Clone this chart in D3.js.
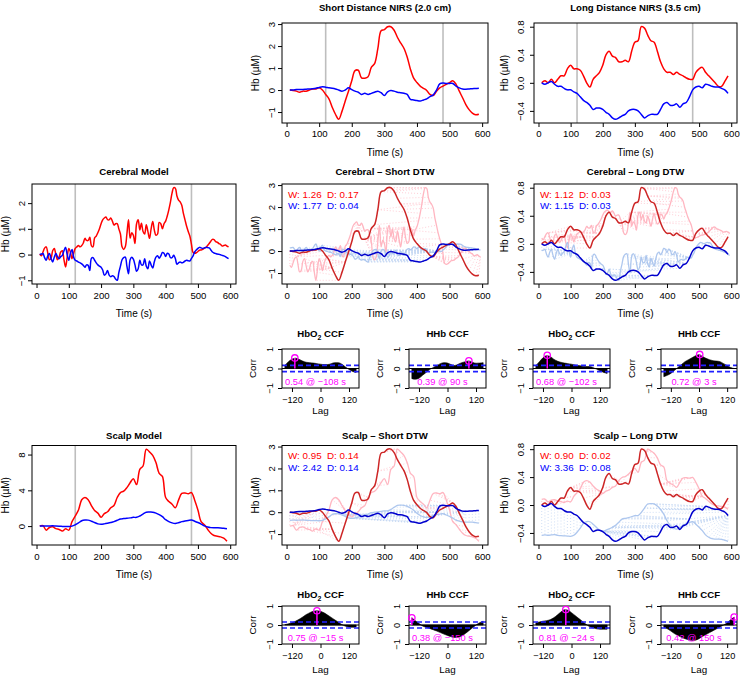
<!DOCTYPE html>
<html><head><meta charset="utf-8">
<script src="https://cdn.jsdelivr.net/npm/d3@7"></script>
<style>body{margin:0;background:#fff}svg{display:block}</style>
</head><body>
<svg id="chart" width="740" height="675"></svg>
<script>
// ---------------- DATA ----------------
const timeA = [10,20,30,40,50,60,70,80,90,100,110,120,130,140,150,160,170,180,190,200,210,220,230,240,250,260,270,280,290,300,310,320,330,340,350,360,370,380,390,400,410,420,430,440,450,460,470,480,490,500,510,520,530,540,550,560,570,580,590];
const timeB = [10,15,20,25,30,35,40,45,50,55,60,65,70,75,80,85,90,95,100,105,110,115,120,125,130,135,140,145,150,155,160,165,170,175,180,185,190,195,200,205,210,215,220,225,230,235,240,245,250,255,260,265,270,275,280,285,290,295,300,305,310,315,320,325,330,335,340,345,350,355,360,365,370,375,380,385,390,395,400,405,410,415,420,425,430,435,440,445,450,455,460,465,470,475,480,485,490,495,500,505,510,515,520,525,530,535,540,545,550,555,560,565,570,575,580,585,590,595];

const shortHbO2 = [0.0,-0.02,-0.05,-0.1,-0.05,-0.05,0.0,0.05,0.05,0.1,
  0.0,-0.2,-0.4,-0.78,-1.1,-1.33,-0.97,-0.5,-0.05,0.42,
  0.88,0.9,0.55,0.54,0.6,1.03,1.2,1.88,2.7,2.75,
  2.88,2.88,2.72,2.4,2.14,1.9,1.5,0.95,0.54,0.34,
  0.18,0.08,-0.02,-0.2,-0.25,-0.05,0.1,0.18,0.26,0.34,
  0.42,0.26,-0.05,-0.35,-0.66,-0.89,-1.05,-1.12,-1.1];
const shortHHb = [0.0,0.0,0.02,0.03,0.03,0.04,0.05,0.06,0.08,0.12,
  0.15,0.13,0.1,0.08,0.05,0.0,-0.05,0.0,0.1,0.02,
  -0.05,-0.1,-0.2,-0.15,-0.2,-0.15,-0.1,-0.05,-0.12,-0.25,
  -0.08,-0.02,-0.05,-0.1,-0.12,-0.15,-0.2,-0.42,-0.45,-0.48,
  -0.5,-0.45,-0.4,-0.3,-0.22,0.0,0.28,0.32,0.3,0.3,
  0.3,0.18,0.1,0.05,0.04,0.05,0.06,0.07,0.08];
const longHbO2 = [0.0,0.03,0.0,0.05,0.0,0.05,0.1,0.1,0.2,0.25,
  0.2,0.2,0.18,0.1,0.0,-0.06,0.05,0.1,0.15,0.25,
  0.4,0.45,0.38,0.36,0.3,0.3,0.32,0.3,0.45,0.58,
  0.6,0.8,0.78,0.68,0.6,0.58,0.45,0.3,0.2,0.15,
  0.15,0.12,0.15,0.12,0.1,0.07,0.05,0.05,0.15,0.2,
  0.22,0.15,0.1,0.05,0.0,-0.05,-0.05,0.02,0.1];
const longHHb = [0.0,-0.02,0.0,0.02,-0.02,-0.05,-0.05,-0.08,-0.1,-0.1,
  -0.13,-0.15,-0.2,-0.25,-0.28,-0.32,-0.38,-0.36,-0.36,-0.38,
  -0.42,-0.45,-0.5,-0.52,-0.5,-0.47,-0.45,-0.4,-0.38,-0.38,
  -0.4,-0.45,-0.5,-0.47,-0.45,-0.45,-0.45,-0.38,-0.3,-0.28,
  -0.32,-0.32,-0.3,-0.35,-0.3,-0.28,-0.2,-0.1,-0.06,-0.05,
  -0.07,-0.02,-0.03,-0.05,-0.06,-0.06,-0.08,-0.1,-0.15];
const cerebHbO2 = [0.02,-0.05,0.1,0.25,0.3,0.05,-0.2,-0.15,0.15,0.24,
  0.0,-0.2,-0.1,0.1,0.15,-0.2,-0.48,-0.1,0.24,0.1,
  -0.16,0.05,0.24,0.3,0.35,0.3,0.35,0.45,0.63,0.55,
  0.55,0.67,0.35,0.3,0.65,0.72,0.85,1.0,1.2,1.35,
  1.42,1.46,1.36,1.35,1.42,1.3,1.15,1.2,1.2,1.0,
  0.8,0.3,0.2,0.3,0.8,1.35,0.63,0.85,0.75,0.43,
  1.2,1.35,0.96,1.22,0.9,0.8,1.16,0.9,0.63,1.0,
  1.29,0.95,0.75,0.8,1.25,1.2,1.0,1.2,1.3,1.5,
  1.75,2.05,2.4,2.6,2.58,2.28,2.12,2.05,1.92,1.6,
  1.35,1.1,0.9,0.72,0.4,0.08,0.05,0.07,0.12,0.17,
  0.18,0.2,0.25,0.28,0.35,0.43,0.52,0.59,0.58,0.5,
  0.48,0.43,0.4,0.33,0.35,0.37,0.33,0.3];
const cerebHHb = [0.0,0.02,0.04,-0.12,-0.22,-0.05,0.04,-0.15,-0.29,-0.1,
  0.04,-0.08,-0.16,-0.08,-0.03,0.15,0.28,0.0,-0.22,0.05,
  0.2,-0.1,-0.22,-0.25,-0.29,-0.32,-0.36,-0.42,-0.49,-0.4,
  -0.42,-0.62,-0.15,-0.12,-0.22,-0.32,-0.4,-0.45,-0.49,-0.6,
  -0.8,-0.75,-0.62,-0.8,-0.86,-0.82,-0.85,-0.95,-1.0,-0.7,
  -0.45,-0.2,-0.12,-0.1,-0.45,-0.75,-0.2,-0.1,-0.18,-0.4,
  -0.65,-0.55,-0.22,-0.4,-0.4,-0.16,-0.45,-0.55,-0.25,-0.4,
  -0.52,-0.28,-0.1,-0.05,-0.14,-0.05,0.08,0.05,-0.07,0.05,
  0.02,-0.12,-0.12,-0.03,-0.15,-0.38,-0.32,-0.29,-0.32,-0.3,
  -0.25,-0.22,-0.24,-0.25,-0.15,-0.05,0.1,0.18,0.24,0.28,
  0.26,0.24,0.26,0.28,0.27,0.26,0.18,0.1,0.06,0.04,
  0.02,0.01,-0.01,-0.03,-0.05,-0.08,-0.12,-0.16];
const scalpHbO2 = [0.0,0.05,-0.45,-0.15,-0.08,-0.28,-0.38,-0.55,-0.3,-0.45,
  0.5,1.13,1.8,2.94,3.2,2.95,2.3,1.75,1.45,1.0,
  1.4,1.6,2.05,2.3,3.2,3.75,3.9,4.3,4.85,5.3,
  4.64,6.34,6.72,8.6,8.3,7.9,7.1,5.9,5.55,3.2,
  2.75,2.45,2.05,2.9,3.65,3.7,3.62,3.75,2.9,1.8,
  0.5,0.15,-0.35,-0.8,-1.05,-1.13,-1.2,-1.35,-1.7];
const scalpHHb = [0.0,0.02,0.0,0.02,0.03,0.0,-0.02,-0.03,-0.04,-0.05,
  0.0,0.15,0.35,0.6,0.68,0.67,0.55,0.4,0.25,0.2,
  0.25,0.32,0.4,0.5,0.65,0.8,0.84,0.87,0.92,0.98,
  0.98,1.13,1.35,1.55,1.57,1.56,1.45,1.28,1.05,0.72,
  0.5,0.36,0.3,0.38,0.5,0.58,0.64,0.68,0.55,0.4,
  0.23,0.02,-0.1,-0.17,-0.19,-0.19,-0.2,-0.25,-0.3];

const taskOnOff = [120, 480];
const timeTicks = [0,100,200,300,400,500,600];

// DTW summary labels (HbO2 / HHb) for: cereb-short, cereb-long, scalp-short, scalp-long
const dtwW_HbO2 = [1.26, 1.12, 0.95, 0.90];
const dtwD_HbO2 = [0.17, 0.03, 0.14, 0.02];
const dtwW_HHb  = [1.77, 1.15, 2.42, 3.36];
const dtwD_HHb  = [0.04, 0.03, 0.14, 0.08];

// cross-correlation functions
const lags = [-150,-135,-120,-105,-90,-75,-60,-45,-30,-15,0,15,30,45,60,75,90,105,120,135,150];
const lagTicks = [-120, 0, 120];
const ccfCerShortHbO2 = [0.15,0.35,0.48,0.53,0.47,0.38,0.32,0.3,0.28,0.25,0.22,0.2,0.2,0.25,0.3,0.3,0.22,0.08,-0.05,-0.15,-0.2];
const ccfCerShortHHb  = [-0.52,-0.55,-0.5,-0.35,-0.2,-0.05,0.05,0.15,0.25,0.3,0.28,0.2,0.15,0.22,0.3,0.35,0.39,0.32,0.27,0.28,0.3];
const ccfCerLongHbO2  = [0.15,0.35,0.55,0.66,0.62,0.48,0.38,0.32,0.28,0.25,0.22,0.18,0.15,0.12,0.1,0.1,0.05,-0.03,-0.12,-0.2,-0.25];
const ccfCerLongHHb   = [-0.42,-0.35,-0.25,-0.1,0.05,0.2,0.35,0.45,0.55,0.65,0.71,0.62,0.52,0.45,0.4,0.38,0.35,0.25,0.15,0.05,0.0];
const ccfScShortHbO2  = [0.02,0.06,0.12,0.2,0.3,0.42,0.55,0.65,0.72,0.75,0.72,0.64,0.52,0.4,0.27,0.15,0.02,-0.06,-0.1,-0.12,-0.1];
const ccfScShortHHb   = [0.38,0.22,0.08,-0.05,-0.12,-0.18,-0.25,-0.32,-0.4,-0.48,-0.55,-0.62,-0.66,-0.65,-0.58,-0.45,-0.3,-0.15,0.0,0.12,0.2];
const ccfScLongHbO2   = [0.12,0.16,0.2,0.23,0.28,0.38,0.52,0.68,0.8,0.78,0.65,0.5,0.35,0.2,0.05,-0.08,-0.15,-0.2,-0.22,-0.22,-0.22];
const ccfScLongHHb    = [-0.12,-0.2,-0.32,-0.45,-0.55,-0.65,-0.72,-0.78,-0.82,-0.8,-0.72,-0.6,-0.5,-0.4,-0.3,-0.2,-0.1,0.0,0.12,0.28,0.42];
const ccfPeakLag = [-108, 90, -102, 3, -15, -150, -24, 150];
const ccfPeakVal = [0.54, 0.39, 0.68, 0.72, 0.75, 0.38, 0.81, 0.42];
const ccfSig = 0.16;

// ---------------- STYLE / LAYOUT ----------------
const FONT = '"Liberation Sans", Arial, Helvetica, sans-serif';
const C = {red:'#FF0000', blue:'#0000FF', dred:'#CD2626', dblue:'#0000CD',
           pink:'#FFB6C1', lblue:'#AEC7EE', pinkDot:'#FFC2CC', lblueDot:'#C4D7F3',
           gray:'#BEBEBE', mag:'#FF00FF', sig:'#2020FF'};
const COL = {
  c1:{bx:[32,236], ytickOff:10.5, ylabOff:27},
  c2:{bx:[282,488], ytickOff:10.5, ylabOff:27},
  c3:{bx:[534,737], ytickOff:13, ylabOff:30}
};
const ROW = {
  r1:{by:[23,123], titleCy:7.5, xtickOff:11, xlabOff:29},
  r2:{by:[184,284], titleCy:171.5, xtickOff:12, xlabOff:29.5},
  r4:{by:[445.5,545], titleCy:436, xtickOff:12, xlabOff:29}
};
const CCFCOL = [[282,359],[409,486],[533,610],[661,737]];
const CCFROW = {
  r3:{by:[349,388], titleCy:334, xtickOff:12, xlabOff:23},
  r5:{by:[606,644], titleCy:595, xtickOff:12, xlabOff:26}
};
const XLIM = [-14, 618];
const LAGLIM = [-162, 162];

const svg = d3.select('#chart');
let clipN = 0;
function padExt(arrs){
  const e = d3.extent(arrs.flat());
  const r = e[1]-e[0];
  return [e[0]-0.04*r, e[1]+0.04*r];
}

function frame(o){
  const g = svg.append('g');
  const x = d3.scaleLinear().domain(o.xdom).range(o.bx);
  const y = d3.scaleLinear().domain(o.ydom).range([o.by[1], o.by[0]]);
  const id = 'clip' + (clipN++);
  svg.append('clipPath').attr('id', id).append('rect')
    .attr('x', o.bx[0]).attr('y', o.by[0]).attr('width', o.bx[1]-o.bx[0]).attr('height', o.by[1]-o.by[0]);
  const plot = g.append('g').attr('clip-path', `url(#${id})`);
  g.append('rect').attr('x', o.bx[0]).attr('y', o.by[0]).attr('width', o.bx[1]-o.bx[0]).attr('height', o.by[1]-o.by[0])
    .attr('fill','none').attr('stroke','#000').attr('stroke-width',1);
  const ax = g.append('g').attr('transform', `translate(0,${o.by[1]})`)
    .call(d3.axisBottom(x).tickValues(o.xticks).tickSize(4).tickFormat(d3.format('d')));
  ax.select('.domain').remove();
  ax.attr('font-family', FONT).attr('font-size', o.fsTick);
  ax.selectAll('line').attr('stroke','#000');
  ax.selectAll('text').attr('fill','#000').attr('y', o.xtickOff).attr('dy','0.35em');
  const ay = g.append('g').attr('transform', `translate(${o.bx[0]},0)`)
    .call(d3.axisLeft(y).tickValues(o.yticks).tickSize(4).tickFormat(o.yfmt));
  ay.select('.domain').remove();
  ay.attr('font-family', FONT).attr('font-size', o.fsTick);
  ay.selectAll('line').attr('stroke','#000');
  ay.selectAll('text').attr('fill','#000').attr('x',0).attr('text-anchor','middle')
    .attr('transform', `translate(${-o.ytickOff},0) rotate(-90)`).attr('dy','0.35em');
  const cx = (o.bx[0]+o.bx[1])/2, cy = (o.by[0]+o.by[1])/2;
  g.append('text').attr('x', cx).attr('y', o.by[1]+o.xlabOff).attr('dy','0.35em')
    .attr('text-anchor','middle').attr('font-family',FONT).attr('font-size',o.fsLab).text(o.xlab);
  g.append('text').attr('transform', `translate(${o.bx[0]-o.ylabOff},${cy}) rotate(-90)`).attr('dy','0.35em')
    .attr('text-anchor','middle').attr('font-family',FONT).attr('font-size',o.fsLab).text(o.ylab);
  const tt = g.append('text').attr('x', cx).attr('y', o.titleCy).attr('dy','0.35em')
    .attr('text-anchor','middle').attr('font-family',FONT).attr('font-size',o.fsTitle).attr('font-weight','bold');
  if (Array.isArray(o.title)) {
    tt.append('tspan').text(o.title[0]);
    tt.append('tspan').attr('font-size', o.fsTitle*0.72).attr('dy', 2.6).text(o.title[1]);
    tt.append('tspan').attr('dy', -2.6).text(o.title[2]);
  } else tt.text(o.title);
  return {g, plot, x, y};
}

function drawLine(p, t, v, color, w){
  const line = d3.line().x((d,i)=>p.x(t[i])).y(d=>p.y(d)).curve(d3.curveCatmullRom.alpha(0.5));
  p.plot.append('path').datum(v).attr('d', line).attr('fill','none')
    .attr('stroke', color).attr('stroke-width', w).attr('stroke-linejoin','round');
}

function tsPanel(col, row, title, yticks, yfmt, seriesList, ydomArrs, extra){
  const p = frame(Object.assign({xdom:XLIM, ydom:padExt(ydomArrs), xticks:timeTicks, yticks, yfmt,
    title, xlab:'Time (s)', ylab:'Hb (\u00B5M)', fsTick:9.6, fsLab:10, fsTitle:9.6}, COL[col], ROW[row]));
  if (extra) extra(p);
  seriesList.forEach(s => drawLine(p, s.t, s.v, s.c, s.w));
  return p;
}
function grayLines(p){
  taskOnOff.forEach(tv => p.plot.append('line').attr('x1',p.x(tv)).attr('x2',p.x(tv))
    .attr('y1',p.y.range()[0]).attr('y2',p.y.range()[1]).attr('stroke',C.gray).attr('stroke-width',1.6));
}
function rescaleTo(src, target){
  const [a,b] = d3.extent(src), [c,d] = d3.extent(target);
  return src.map(v => c + (v-a)/(b-a)*(d-c));
}
function dtwPath(a, b){
  const n=a.length, m=b.length, D=[];
  for (let i=0;i<n;i++) D.push(new Float64Array(m));
  for (let i=0;i<n;i++) for (let j=0;j<m;j++){
    const c = Math.abs(a[i]-b[j]);
    if (i===0 && j===0) { D[i][j]=c; continue; }
    let best = Infinity;
    if (i>0) best = Math.min(best, D[i-1][j]);
    if (j>0) best = Math.min(best, D[i][j-1]);
    if (i>0 && j>0) best = Math.min(best, D[i-1][j-1]);
    D[i][j] = c + best;
  }
  let i=n-1, j=m-1; const path=[[i,j]];
  while (i>0 || j>0){
    if (i===0) j--; else if (j===0) i--;
    else { const dd=D[i-1][j-1], u=D[i-1][j], l=D[i][j-1];
      if (dd<=u && dd<=l){i--;j--;} else if (u<=l) i--; else j--; }
    path.push([i,j]);
  }
  return path;
}

const fmtInt = d3.format('d'), fmt1 = d3.format('.1f'), fmt2 = d3.format('.2f');

// ---------------- ROW 1 ----------------
tsPanel('c2','r1','Short Distance NIRS (2.0 cm)', [-1,0,1,2,3], fmtInt,
  [{t:timeA, v:shortHbO2, c:C.red, w:1.5},{t:timeA, v:shortHHb, c:C.blue, w:1.5}],
  [shortHbO2, shortHHb], grayLines);
tsPanel('c3','r1','Long Distance NIRS (3.5 cm)', [-0.4,0,0.4,0.8], fmt1,
  [{t:timeA, v:longHbO2, c:C.red, w:1.5},{t:timeA, v:longHHb, c:C.blue, w:1.5}],
  [longHbO2, longHHb], grayLines);

// ---------------- MODELS ----------------
tsPanel('c1','r2','Cerebral Model', [-1,0,1,2], fmtInt,
  [{t:timeB, v:cerebHbO2, c:C.red, w:1.5},{t:timeB, v:cerebHHb, c:C.blue, w:1.5}],
  [cerebHbO2, cerebHHb], grayLines);
tsPanel('c1','r4','Scalp Model', [0,4,8], fmtInt,
  [{t:timeA, v:scalpHbO2, c:C.red, w:1.5},{t:timeA, v:scalpHHb, c:C.blue, w:1.5}],
  [scalpHbO2, scalpHHb], grayLines);

// ---------------- DTW PANELS ----------------
function dtwPanel(col, row, title, yticks, yfmt, tgtO, tgtH, tM, modO, modH, k){
  const sO = rescaleTo(modO, tgtO), sH = rescaleTo(modH, tgtH);
  const p = tsPanel(col, row, title, yticks, yfmt, [], [tgtO, tgtH, sO, sH]);
  const dots = (tgt, mod, color) => {
    dtwPath(tgt, mod).forEach(([i,j]) => p.plot.append('line')
      .attr('x1', p.x(timeA[i])).attr('y1', p.y(tgt[i])).attr('x2', p.x(tM[j])).attr('y2', p.y(mod[j]))
      .attr('stroke', color).attr('stroke-width', 0.8).attr('stroke-dasharray','1,2'));
  };
  dots(tgtO, sO, C.pinkDot);
  dots(tgtH, sH, C.lblueDot);
  drawLine(p, tM, sO, C.pink, 1.3);
  drawLine(p, tM, sH, C.lblue, 1.3);
  drawLine(p, timeA, tgtO, C.dred, 1.5);
  drawLine(p, timeA, tgtH, C.dblue, 1.5);
  const bx = COL[col].bx, by = ROW[row].by;
  p.g.append('text').attr('x', bx[0]+6).attr('y', by[0]+10.5).attr('dy','0.35em')
    .attr('font-family',FONT).attr('font-size',9.8).attr('fill',C.red).style('white-space','pre')
    .text(`W: ${fmt2(dtwW_HbO2[k])}  D: ${fmt2(dtwD_HbO2[k])}`);
  p.g.append('text').attr('x', bx[0]+6).attr('y', by[0]+22).attr('dy','0.35em')
    .attr('font-family',FONT).attr('font-size',9.8).attr('fill',C.blue).style('white-space','pre')
    .text(`W: ${fmt2(dtwW_HHb[k])}  D: ${fmt2(dtwD_HHb[k])}`);
}
dtwPanel('c2','r2','Cerebral \u2013 Short DTW', [-1,0,1,2,3], fmtInt, shortHbO2, shortHHb, timeB, cerebHbO2, cerebHHb, 0);
dtwPanel('c3','r2','Cerebral \u2013 Long DTW', [-0.4,0,0.4,0.8], fmt1, longHbO2, longHHb, timeB, cerebHbO2, cerebHHb, 1);
dtwPanel('c2','r4','Scalp \u2013 Short DTW', [-1,0,1,2,3], fmtInt, shortHbO2, shortHHb, timeA, scalpHbO2, scalpHHb, 2);
dtwPanel('c3','r4','Scalp \u2013 Long DTW', [-0.4,0,0.4,0.8], fmt1, longHbO2, longHHb, timeA, scalpHbO2, scalpHHb, 3);

// ---------------- CCF PANELS ----------------
const ccfList = [ccfCerShortHbO2, ccfCerShortHHb, ccfCerLongHbO2, ccfCerLongHHb,
                 ccfScShortHbO2, ccfScShortHHb, ccfScLongHbO2, ccfScLongHHb];
ccfList.forEach((vals, k) => {
  const row = k < 4 ? CCFROW.r3 : CCFROW.r5;
  const bx = CCFCOL[k % 4];
  const isO = (k % 2) === 0;
  const p = frame(Object.assign({xdom:LAGLIM, ydom:[-1,1], xticks:lagTicks, yticks:[-1,0,1], yfmt:fmtInt,
    title: isO ? ['HbO','2',' CCF'] : 'HHb CCF', xlab:'Lag', ylab:'Corr',
    bx, ytickOff:12.5, ylabOff:29, fsTick:9.2, fsLab:9.8, fsTitle:9.6}, row));
  const area = d3.area().x((d,i)=>p.x(lags[i])).y0(p.y(0)).y1(d=>p.y(d)).curve(d3.curveMonotoneX);
  p.plot.append('path').datum(vals).attr('d', area).attr('fill','#000').attr('stroke','#000').attr('stroke-width',0.6);
  p.plot.append('line').attr('x1',bx[0]).attr('x2',bx[1]).attr('y1',p.y(0)).attr('y2',p.y(0)).attr('stroke','#000').attr('stroke-width',1);
  [ccfSig, -ccfSig].forEach(s => p.plot.append('line').attr('x1',bx[0]).attr('x2',bx[1]).attr('y1',p.y(s)).attr('y2',p.y(s))
    .attr('stroke',C.sig).attr('stroke-width',1.6).attr('stroke-dasharray','5,3'));
  const pl = ccfPeakLag[k], pv = ccfPeakVal[k];
  p.g.append('line').attr('x1',p.x(pl)).attr('x2',p.x(pl)).attr('y1',p.y(0)).attr('y2',p.y(pv))
    .attr('stroke',C.mag).attr('stroke-width',1.5);
  p.g.append('circle').attr('cx',p.x(pl)).attr('cy',p.y(pv)).attr('r',3.2)
    .attr('fill','none').attr('stroke',C.mag).attr('stroke-width',1.3);
  p.g.append('text').attr('x',(bx[0]+bx[1])/2 - 5).attr('y', row.by[1]-6).attr('dy','0.35em')
    .attr('text-anchor','middle').attr('font-family',FONT).attr('font-size',9.3).attr('fill',C.mag)
    .text(`${fmt2(pv)} @ ${fmtInt(pl)} s`);
});
</script>
</body></html>
